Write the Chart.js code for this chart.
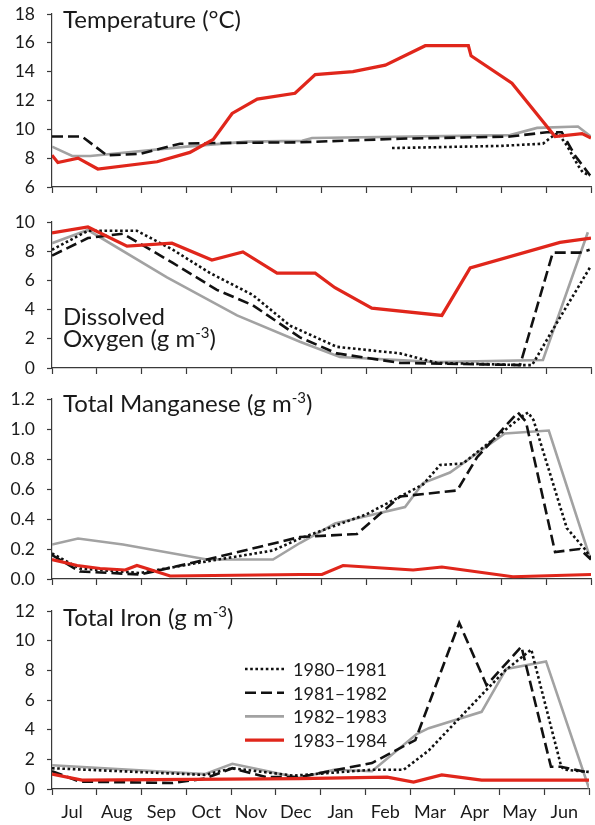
<!DOCTYPE html>
<html>
<head>
<meta charset="utf-8">
<script src="https://cdn.jsdelivr.net/npm/chart.js@4.4.1/dist/chart.umd.min.js"></script>
<style>
  html, body { margin: 0; padding: 0; background: #fff; }
  #wrap { position: relative; width: 595px; height: 825px; overflow: hidden; }
  canvas { position: absolute; left: 0; }
</style>
</head>
<body>
<div id="wrap">
  <canvas id="cTemp" width="595" height="199" style="top:0px"></canvas>
  <canvas id="cOxy" width="595" height="172" style="top:208px"></canvas>
  <canvas id="cMn" width="595" height="206" style="top:385px"></canvas>
  <canvas id="cFe" width="595" height="228" style="top:597px"></canvas>
</div>
<script>
// x values are months counted from 1 July (0 = 1 Jul, 12 = 30 Jun)
const months = ["Jul", "Aug", "Sep", "Oct", "Nov", "Dec", "Jan", "Feb", "Mar", "Apr", "May", "Jun"];
const monthTicks = [0, 1, 2, 3, 4, 5, 6, 7, 8, 9, 10, 11, 12];
const seasons = ["1980–1981", "1981–1982", "1982–1983", "1983–1984"];

// Temperature (°C)
const temp8081 = [[7.57, 8.7], [9.97, 8.85], [10.93, 9.0], [11.09, 9.4], [11.26, 9.75], [11.46, 8.9], [11.71, 7.5], [11.82, 7.0], [11.98, 6.8]];
const temp8182 = [[0, 9.5], [0.67, 9.5], [1.22, 8.2], [1.96, 8.3], [2.85, 9.0], [3.58, 9.05], [5.52, 9.1], [7.75, 9.35], [10.2, 9.5], [11.02, 9.8], [11.35, 9.8], [11.64, 8.2], [11.98, 6.8]];
const temp8283 = [[0, 8.8], [0.45, 8.15], [0.85, 8.15], [3.0, 8.8], [4.34, 9.15], [5.57, 9.2], [5.79, 9.4], [10.2, 9.6], [10.8, 10.1], [11.71, 10.2], [12, 9.5]];
const temp8384 = [[0, 8.2], [0.13, 7.7], [0.58, 8.0], [1.02, 7.25], [2.34, 7.75], [3.07, 8.4], [3.59, 9.3], [4.01, 11.1], [4.57, 12.1], [5.41, 12.5], [5.86, 13.8], [6.7, 14.0], [7.42, 14.45], [8.31, 15.8], [9.27, 15.8], [9.33, 15.1], [10.24, 13.2], [11.2, 9.5], [11.8, 9.7], [12, 9.4]];

// Dissolved oxygen (g m-3)
const oxy8081 = [[0, 8.1], [0.8, 9.4], [1.89, 9.4], [2.69, 8.1], [3.52, 6.5], [4.47, 5.0], [5.3, 2.9], [6.34, 1.45], [7.75, 1.0], [8.57, 0.35], [10.49, 0.2], [10.69, 0.2], [11.24, 3.1], [12, 7.0]];
const oxy8182 = [[0, 7.7], [0.8, 8.9], [1.58, 9.2], [2.69, 7.2], [3.67, 5.35], [4.47, 4.3], [5.52, 2.1], [6.34, 1.0], [7.75, 0.35], [10.42, 0.2], [11.15, 7.9], [11.75, 7.9], [11.97, 8.1]];
const oxy8283 = [[0, 8.55], [0.8, 9.45], [2.56, 6.2], [4.12, 3.6], [5.52, 1.8], [6.41, 0.75], [8.57, 0.4], [10.93, 0.55], [11.93, 9.3]];
const oxy8384 = [[0, 9.25], [0.8, 9.66], [1.67, 8.35], [2.67, 8.55], [3.56, 7.4], [4.25, 7.95], [5.01, 6.5], [5.86, 6.5], [6.3, 5.5], [7.12, 4.1], [8.68, 3.6], [9.31, 6.85], [11.31, 8.6], [12, 8.9]];

// Total manganese (g m-3)
const mn8081 = [[0, 0.17], [0.62, 0.07], [1.96, 0.04], [3.3, 0.11], [4.92, 0.19], [5.52, 0.27], [6.99, 0.43], [8.26, 0.63], [8.64, 0.76], [9.15, 0.77], [10.49, 1.09], [10.6, 1.11], [10.72, 1.06], [11.46, 0.34], [11.86, 0.2], [12, 0.14]];
const mn8182 = [[0, 0.16], [0.62, 0.05], [1.96, 0.03], [3.45, 0.13], [5.52, 0.28], [6.79, 0.3], [7.75, 0.55], [9.02, 0.59], [9.46, 0.81], [10.37, 1.11], [10.55, 1.05], [11.2, 0.18], [11.75, 0.2], [12, 0.13]];
const mn8283 = [[0, 0.23], [0.58, 0.27], [1.58, 0.23], [3.45, 0.13], [4.92, 0.13], [5.52, 0.24], [6.3, 0.37], [7.86, 0.48], [8.26, 0.64], [8.86, 0.71], [10.08, 0.97], [11.06, 0.99], [11.98, 0.14], [12, 0.13]];
const mn8384 = [[0, 0.13], [0.56, 0.09], [1.07, 0.07], [1.63, 0.06], [1.89, 0.09], [2.11, 0.07], [2.63, 0.02], [5.52, 0.03], [6.01, 0.03], [6.48, 0.09], [8.04, 0.06], [8.68, 0.08], [10.26, 0.015], [12, 0.03]];

// Total iron (g m-3)
const fe8081 = [[0, 1.4], [3.41, 0.95], [4.03, 1.4], [5.4, 0.9], [7.15, 1.3], [7.86, 1.3], [8.42, 2.6], [9.6, 6.35], [10.13, 8.0], [10.71, 9.4], [11.38, 1.5], [11.46, 1.3], [12, 1.15]];
const fe8182 = [[0, 1.2], [0.62, 0.5], [2.69, 0.4], [3.41, 0.7], [4.03, 1.4], [4.79, 0.8], [5.52, 0.8], [7.15, 1.75], [8.12, 3.3], [9.1, 11.2], [9.71, 7.0], [10.49, 9.6], [11.15, 1.5], [11.37, 1.5], [12, 1.1]];
const fe8283 = [[0, 1.6], [3.41, 1.0], [4.03, 1.7], [5.52, 0.75], [6.3, 1.3], [7.15, 1.2], [8.15, 3.7], [8.42, 4.1], [9.6, 5.2], [10.15, 8.1], [11.04, 8.6], [12, 0.05]];
const fe8384 = [[0, 1.0], [0.67, 0.6], [5.52, 0.7], [7.49, 0.8], [8.08, 0.47], [8.71, 0.95], [9.6, 0.6], [12, 0.6]];

const chartFont = "Lato";
const axisColor = "#3a3a3a";
const textColor = "#1a1a1a";

// one style per season: dotted, dashed, grey, red
const seasonStyle = [
    { color: "#111111", width: 2.6, dash: [2.6, 2.6], order: 1 },
    { color: "#111111", width: 2.6, dash: [11, 5], order: 2 },
    { color: "#a2a2a2", width: 2.6, dash: [], order: 3 },
    { color: "#e0261b", width: 3.2, dash: [], order: 0 }
];

// panel name drawn inside the plot; "^" marks a superscript piece
const panelText = {
    id: "panelText",
    afterDraw(chart, args, opts) {
        if (!opts.lines) return;
        const ctx = chart.ctx;
        ctx.save();
        ctx.fillStyle = textColor;
        ctx.textBaseline = "alphabetic";
        ctx.textAlign = "left";
        opts.lines.forEach(line => {
            let x = opts.x;
            line.parts.forEach(p => {
                const sup = p.startsWith("^");
                const txt = sup ? p.slice(1) : p;
                ctx.font = (sup ? 15 : 24) + "px " + chartFont;
                ctx.fillText(txt, x, line.y - (sup ? 9 : 0));
                x += ctx.measureText(txt).width;
            });
        });
        ctx.restore();
    }
};

const seasonLegend = {
    id: "seasonLegend",
    afterDatasetsDraw(chart, args, opts) {
        if (!opts.show) return;
        const ctx = chart.ctx;
        ctx.save();
        seasons.forEach((s, i) => {
            const st = seasonStyle[i];
            const y = opts.y + i * opts.step;
            ctx.beginPath();
            ctx.strokeStyle = st.color;
            ctx.lineWidth = st.width;
            ctx.setLineDash(st.dash);
            ctx.moveTo(opts.x, y);
            ctx.lineTo(opts.x + 39, y);
            ctx.stroke();
            ctx.setLineDash([]);
            ctx.fillStyle = textColor;
            ctx.font = "18px " + chartFont;
            ctx.textBaseline = "middle";
            ctx.fillText(s, opts.x + 48, y + 1);
        });
        ctx.restore();
    }
};

function makePanel(id, series, yMin, yMax, yStep, decimals, textOpts, legendOpts) {
    const bottomAxis = !!legendOpts;
    return new Chart(document.getElementById(id), {
        type: "line",
        data: {
            datasets: series.map((pts, i) => ({
                label: seasons[i],
                data: pts.map(p => ({ x: p[0], y: p[1] })),
                borderColor: seasonStyle[i].color,
                borderWidth: seasonStyle[i].width,
                borderDash: seasonStyle[i].dash,
                borderCapStyle: "butt",
                borderJoinStyle: "miter",
                pointRadius: 0,
                tension: 0,
                fill: false,
                order: seasonStyle[i].order
            }))
        },
        options: {
            responsive: false,
            animation: false,
            devicePixelRatio: 1,
            layout: { padding: { top: 14, right: 4, bottom: bottomAxis ? 0 : 6, left: 0 } },
            scales: {
                x: {
                    type: "linear",
                    min: 0,
                    max: 12,
                    afterBuildTicks: s => { s.ticks = monthTicks.map(v => ({ value: v })); },
                    afterFit: s => { s.height = bottomAxis ? 36 : 6; s.paddingTop = 0; s.paddingBottom = 0; },
                    grid: { drawOnChartArea: false, tickLength: 6, color: axisColor, tickWidth: 1.2 },
                    border: { color: axisColor, width: 1.2 },
                    ticks: {
                        display: bottomAxis,
                        autoSkip: false,
                        maxRotation: 0,
                        labelOffset: 20,
                        padding: 6,
                        color: textColor,
                        font: { family: chartFont, size: 18 },
                        callback: v => months[v] || ""
                    }
                },
                y: {
                    min: yMin,
                    max: yMax,
                    afterFit: s => { s.width = 52; s.paddingTop = 0; s.paddingBottom = 0; },
                    grid: { drawOnChartArea: false, tickLength: 5, color: axisColor, tickWidth: 1.2 },
                    border: { color: axisColor, width: 1.2 },
                    ticks: {
                        stepSize: yStep,
                        padding: 12,
                        color: textColor,
                        font: { family: chartFont, size: 17.5 },
                        callback: v => v.toFixed(decimals)
                    }
                }
            },
            plugins: {
                legend: { display: false },
                tooltip: { enabled: false },
                panelText: textOpts,
                seasonLegend: legendOpts || { show: false }
            }
        },
        plugins: [panelText, seasonLegend]
    });
}

makePanel("cTemp", [temp8081, temp8182, temp8283, temp8384], 6, 18, 2, 0,
    { x: 63, lines: [{ y: 28, parts: ["Temperature (°C)"] }] });

makePanel("cOxy", [oxy8081, oxy8182, oxy8283, oxy8384], 0, 10, 2, 0,
    { x: 63, lines: [{ y: 117, parts: ["Dissolved"] }, { y: 139, parts: ["Oxygen (g m", "^-3", ")"] }] });

makePanel("cMn", [mn8081, mn8182, mn8283, mn8384], 0, 1.2, 0.2, 1,
    { x: 63, lines: [{ y: 27, parts: ["Total Manganese (g m", "^-3", ")"] }] });

makePanel("cFe", [fe8081, fe8182, fe8283, fe8384], 0, 12, 2, 0,
    { x: 63, lines: [{ y: 29, parts: ["Total Iron (g m", "^-3", ")"] }] },
    { show: true, x: 245, y: 72, step: 23.7 });
</script>
</body>
</html>
